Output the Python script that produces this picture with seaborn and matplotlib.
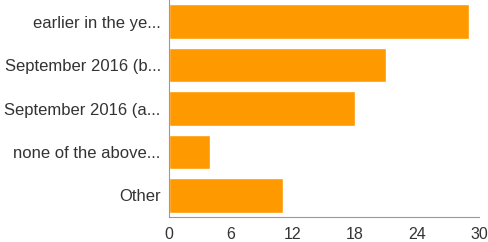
import matplotlib
matplotlib.use("Agg")
import matplotlib.pyplot as plt
import seaborn as sns
import pandas as pd

categories = ["earlier in the ye...", "September 2016 (b...", "September 2016 (a...", "none of the above...", "Other"]
values = [29, 21, 18, 4, 11]
xticks = [0, 6, 12, 18, 24, 30]

sns.set_theme(style="white")
plt.rcParams['font.family'] = ['Liberation Sans', 'DejaVu Sans']

df = pd.DataFrame({"cat": categories, "val": values})
fig = plt.figure(figsize=(4.89, 2.42), dpi=100)
ax = fig.add_axes([0.3456, 0.103, 0.634, 0.897])
sns.barplot(data=df, x="val", y="cat", color="#ff9900", saturation=1, width=0.8, ax=ax, orient="h")
ax.set_xlim(0, 30)
ax.set_xticks(xticks)
ax.set_xlabel("")
ax.set_ylabel("")
for s in ["top", "right"]:
    ax.spines[s].set_visible(False)
for s in ["left", "bottom"]:
    ax.spines[s].set_color("#999999")
    ax.spines[s].set_linewidth(0.8)
ax.tick_params(axis="both", length=4, color="#999999", labelcolor="#333333", pad=2)
ax.tick_params(axis="y", labelsize=12)
ax.tick_params(axis="x", labelsize=11.5, pad=3)
fig.savefig("out.png", dpi=100)
